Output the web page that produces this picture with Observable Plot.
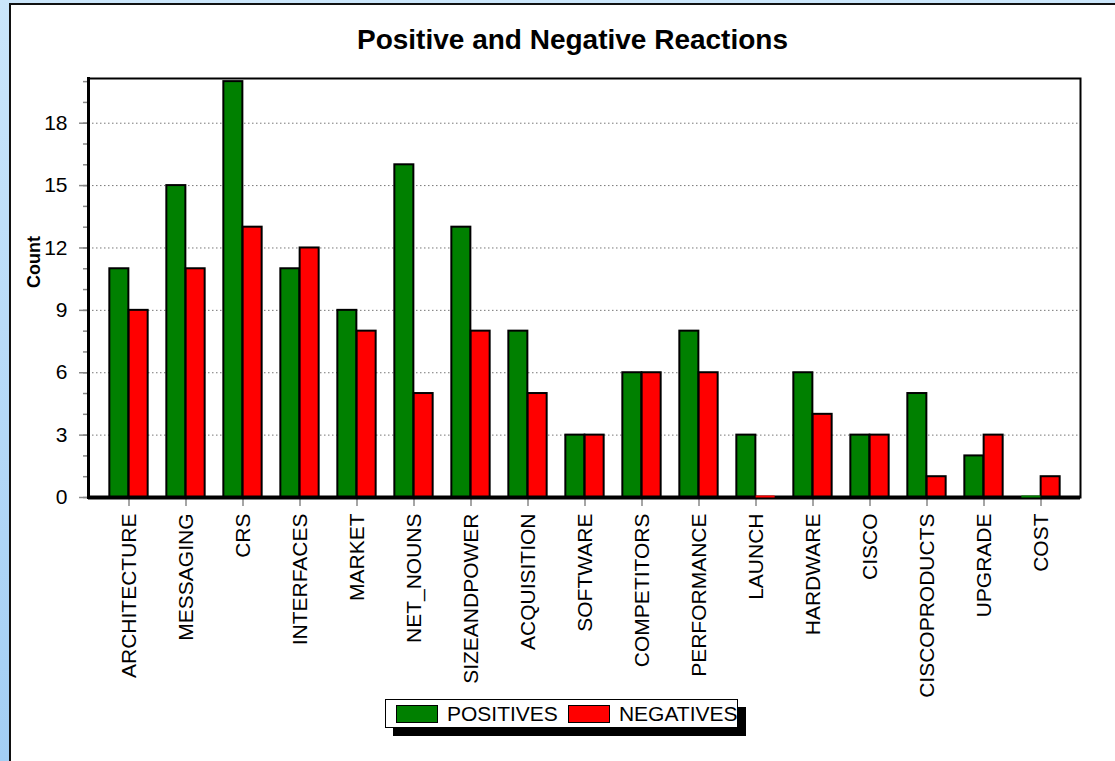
<!DOCTYPE html>
<html>
<head>
<meta charset="utf-8">
<script src="https://cdn.jsdelivr.net/npm/d3@7"></script>
<script src="https://cdn.jsdelivr.net/npm/@observablehq/plot@0.6"></script>
<style>
  html, body { margin: 0; padding: 0; width: 1115px; height: 761px; overflow: hidden; }
  body { background: linear-gradient(#cbe6fb, #a3cef4); position: relative; font-family: "Liberation Sans", Arial, sans-serif; }
  #panel { position: absolute; left: 9px; top: 3px; width: 1200px; height: 800px; background: white; border-left: 2px solid #111; border-top: 2px solid #111; }
  #title { position: absolute; left: 0; width: 1145px; top: 24px; text-align: center; font-weight: bold; font-size: 28px; color: #000; }
  #chart { position: absolute; left: 0; top: 0; }
  #legend { position: absolute; left: 385px; top: 699px; width: 351px; height: 27px; background: white; border: 1px solid #000; box-shadow: 8px 8px 0 #000; white-space: nowrap; font-size: 21px; line-height: 27px; }
  .sw { display: inline-block; width: 40px; height: 16px; border: 1.5px solid #000; vertical-align: -2px; margin-left: 10px; margin-right: 9px; }
</style>
</head>
<body>
<div id="panel"></div>
<div id="title">Positive and Negative Reactions</div>
<div id="chart"></div>
<div id="legend"></div>
<script>
const categories = ["ARCHITECTURE","MESSAGING","CRS","INTERFACES","MARKET","NET_NOUNS","SIZEANDPOWER","ACQUISITION","SOFTWARE","COMPETITORS","PERFORMANCE","LAUNCH","HARDWARE","CISCO","CISCOPRODUCTS","UPGRADE","COST"];
const positives = [11,15,20,11,9,16,13,8,3,6,8,3,6,3,5,2,0];
const negatives = [9,11,13,12,8,5,8,5,3,6,6,0,4,3,1,3,1];
const seriesNames = ["POSITIVES","NEGATIVES"];
const seriesColors = ["#008000","#ff0000"];
const yTicks = [0,3,6,9,12,15,18];
const yMinorTicks = d3.range(0, 21);

const posData = categories.map((c,i) => ({category: c, value: positives[i]}));
const negData = categories.map((c,i) => ({category: c, value: negatives[i]}));

const W = 1115, H = 700, mL = 88, mR = 35, mT = 78, mB = 203;
const padOuter = 0.16;
const step = (W - mL - mR) / (categories.length + 2 * padOuter);
const barW = 19.3;
const outer = step / 2 - barW, inner = step / 2;

const chart = Plot.plot({
  width: W, height: H,
  marginLeft: mL, marginRight: mR, marginTop: mT, marginBottom: mB,
  style: {background: "transparent", fontFamily: "Liberation Sans, Arial, sans-serif", fontSize: "21px", color: "black"},
  x: {domain: categories, paddingInner: 0, paddingOuter: padOuter, axis: null},
  y: {domain: [0, 20.15], axis: null},
  marks: [
    Plot.gridY(yTicks.slice(1), {stroke: "#777", strokeOpacity: 1, strokeDasharray: "1.5,2.5", strokeWidth: 1}),
    Plot.barY(posData.filter(d => d.value > 0), {x: "category", y: "value", fill: seriesColors[0], stroke: "black", strokeWidth: 2, insetLeft: outer, insetRight: inner}),
    Plot.barY(negData.filter(d => d.value > 0), {x: "category", y: "value", fill: seriesColors[1], stroke: "black", strokeWidth: 2, insetLeft: inner, insetRight: outer}),
    Plot.axisY(yMinorTicks, {tickSize: 5, text: null, stroke: "#888", strokeWidth: 1.5, label: null}),
    Plot.axisY(yTicks, {tickSize: 9, tickPadding: 12, stroke: "#888", strokeWidth: 1.5, fill: "black", fontSize: 21, label: null}),
    Plot.axisX({tickSize: 9, tickPadding: 7, tickRotate: -90, stroke: "#888", strokeWidth: 1.5, fill: "black", fontSize: 21, label: null}),
    Plot.frame({stroke: "#000", strokeWidth: 2}),
    Plot.frame({anchor: "left", stroke: "#000", strokeWidth: 3}),
    Plot.ruleY([0], {stroke: "#000", strokeWidth: 4}),
    Plot.tickY(posData.filter(d => d.value === 0), {x: "category", y: "value", stroke: seriesColors[0], strokeWidth: 2, dy: -1, insetLeft: outer, insetRight: inner}),
    Plot.tickY(negData.filter(d => d.value === 0), {x: "category", y: "value", stroke: seriesColors[1], strokeWidth: 2, dy: -1, insetLeft: inner, insetRight: outer}),
    Plot.text(["Count"], {frameAnchor: "left", dx: -54, rotate: -90, fontWeight: "bold", fontSize: 18, fill: "black"})
  ]
});
document.getElementById("chart").appendChild(chart);

const legend = document.getElementById("legend");
seriesNames.forEach((name, i) => {
  const sw = document.createElement("span");
  sw.className = "sw";
  sw.style.background = seriesColors[i];
  legend.appendChild(sw);
  legend.appendChild(document.createTextNode(name));
});
</script>
</body>
</html>
